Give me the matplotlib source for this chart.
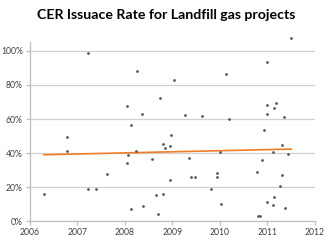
import matplotlib
matplotlib.use("Agg")
import matplotlib.pyplot as plt
import numpy as np

title = "CER Issuace Rate for Landfill gas projects"

years = [2007.22, 2006.78, 2006.79, 2006.30, 2007.22, 2007.39,
         2008.26, 2009.04, 2008.75, 2008.04, 2008.37, 2008.14, 2008.98, 2008.81,
         2008.85, 2008.96, 2008.24, 2008.06, 2008.05, 2008.58, 2007.63, 2008.96,
         2008.66, 2008.81, 2008.39, 2008.14, 2008.69,
         2010.13, 2009.27, 2009.63, 2010.19, 2010.01, 2009.34, 2009.40, 2009.47,
         2009.94, 2009.94, 2009.81, 2010.02,
         2011.50, 2010.98, 2011.18, 2010.99, 2011.14, 2010.99, 2011.34, 2010.93,
         2011.30, 2011.12, 2011.43, 2010.88, 2010.79, 2011.31, 2011.26, 2011.14,
         2010.99, 2011.12, 2011.37, 2010.81, 2010.84]
rates = [99.0, 49.6, 41.3, 15.9, 19.2, 19.1,
         88.1, 82.8, 72.4, 67.7, 62.9, 56.4, 50.6, 45.3,
         42.9, 44.3, 41.5, 38.8, 34.3, 36.8, 28.0, 24.3,
         15.7, 16.3, 9.3, 7.3, 4.4,
         86.3, 62.5, 61.9, 59.9, 40.6, 37.1, 26.1, 26.1,
         28.4, 26.1, 19.1, 10.1,
         107.4, 93.5, 69.5, 68.2, 66.6, 63.2, 61.1, 53.5,
         44.9, 40.9, 39.6, 35.9, 29.2, 27.4, 21.0, 14.2,
         11.6, 9.7, 7.7, 3.2, 3.2]

x_ticks = [2006, 2007, 2008, 2009, 2010, 2011, 2012]
y_ticks = [0, 20, 40, 60, 80, 100]
y_labels = ["0%", "20%", "40%", "60%", "80%", "100%"]

x = np.array(years)
y = np.array(rates)

fig = plt.figure(figsize=(3.32, 2.40), dpi=100)
ax = fig.add_axes([0.0895, 0.0771, 0.8593, 0.7467])

ax.scatter(x, y, s=4, color="#595959", zorder=3, clip_on=False, linewidths=0)

m, b = np.polyfit(x, y, 1)
xs = np.array([x.min(), x.max()])
ax.plot(xs, m * xs + b, color="#F07D28", lw=1.2, zorder=2)

ax.set_xlim(2006, 2012)
ax.set_ylim(0, 105)
ax.set_xticks(x_ticks)
ax.set_xticklabels([str(t) for t in x_ticks])
ax.set_yticks(y_ticks)
ax.set_yticklabels(y_labels)

ax.grid(axis="y", color="#D0D0D0", lw=0.9)
ax.set_axisbelow(True)
for s in ["top", "right"]:
    ax.spines[s].set_visible(False)
for s in ["left", "bottom"]:
    ax.spines[s].set_color("#BFBFBF")
    ax.spines[s].set_linewidth(0.9)
ax.tick_params(axis="both", colors="#BFBFBF", length=3, width=0.9,
               labelcolor="#404040", labelsize=6.2, pad=2)
for lab in ax.get_xticklabels() + ax.get_yticklabels():
    lab.set_family("Lato")

fig.text(0.5, 0.938, title, ha="center", va="center", fontsize=10.2,
         fontweight="bold", family="Lato", color="#000000")

fig.savefig("out.png", dpi=100)
